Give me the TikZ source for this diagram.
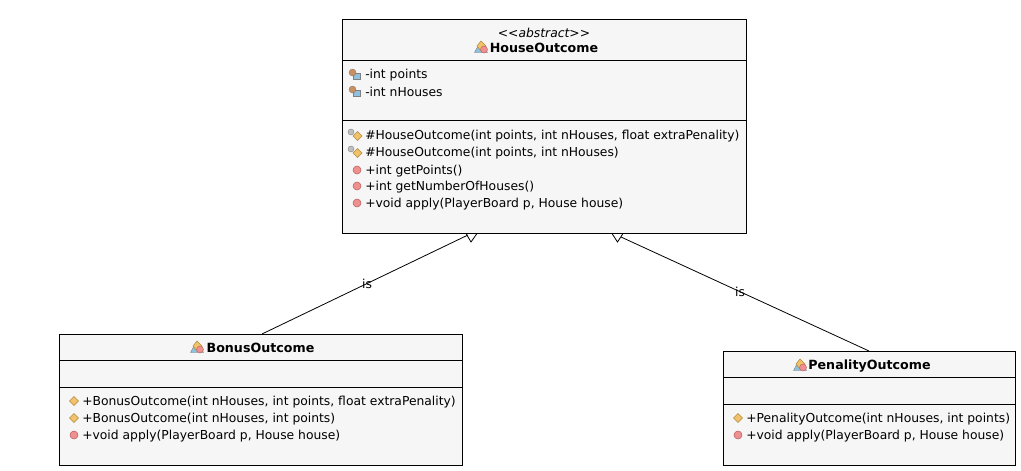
\documentclass[tikz,border=0pt]{standalone}
\usepackage{fontspec}
\setmainfont{DejaVu Sans}
\definecolor{boxfill}{HTML}{F6F6F6}
\definecolor{pubred}{HTML}{EE9090}
\definecolor{pubedge}{HTML}{B85F5F}
\definecolor{pkgorange}{HTML}{F2C16B}
\definecolor{pkgedge}{HTML}{B08A3C}
\definecolor{fieldblue}{HTML}{8FC0DE}
\definecolor{fieldbrown}{HTML}{C98F60}
\tikzset{
  classbox/.style={draw=black, fill=boxfill, line width=0.75pt, inner sep=0pt, rectangle},
  member/.style={anchor=west, inner sep=0pt, font=\fontsize{9.25pt}{10pt}\selectfont, text=black},
  title/.style={inner sep=0pt, font=\fontsize{9.5pt}{10pt}\selectfont\bfseries, text=black},
  rel/.style={line width=0.6pt},
  relhead/.style={draw=black, fill=white, line width=0.6pt},
  rellabel/.style={inner sep=0pt, font=\fontsize{9.25pt}{10pt}\selectfont},
  pubicon/.pic={\filldraw[fill=pubred, draw=pubedge, line width=0.4pt] (0,0) circle (4);},
  pkgicon/.pic={\filldraw[fill=pkgorange, draw=pkgedge, line width=0.4pt] (-4.5,0) -- (0,-4.5) -- (4.5,0) -- (0,4.5) -- cycle;},
  fieldicon/.pic={
    \filldraw[fill=fieldblue, draw=gray, line width=0.3pt] (-2,-1) rectangle (5,5);
    \filldraw[fill=fieldbrown, draw=gray, line width=0.3pt] (-2.5,-1.5) circle (3.5);},
  ctoricon/.pic={
    \filldraw[fill=pkgorange, draw=pkgedge, line width=0.4pt] (-1,1) -- (3.5,-3.5) -- (8,1) -- (3.5,5.5) -- cycle;
    \filldraw[fill=gray!50, draw=gray, line width=0.3pt] (-3,-3) circle (3);},
  classicon/.pic={
    \filldraw[fill=fieldblue, draw=gray, line width=0.3pt] (-6.5,5.5) -- (-3,-1) -- (3,-1) -- (6.5,5.5) -- cycle;
    \filldraw[fill=pkgorange, draw=pkgedge, line width=0.4pt] (-4,-1) -- (0,-6) -- (5,-1) -- (0,4) -- cycle;
    \filldraw[fill=pubred, draw=pubedge, line width=0.3pt] (3,2.5) circle (3.5);}
}
\begin{document}
\begin{tikzpicture}[x=0.75pt, y=-0.75pt]
  \useasboundingbox (0,0) rectangle (1021,471);

  % Class boxes
  \node[classbox, minimum width=404*0.75pt, minimum height=214*0.75pt] (house) at (544,126) {};
  \node[classbox, minimum width=403*0.75pt, minimum height=131*0.75pt] (bonus) at (260.5,399.5) {};
  \node[classbox, minimum width=292*0.75pt, minimum height=114*0.75pt] (penality) at (869,408) {};

  % Compartment lines
  \draw[line width=0.75pt] (342,60) -- (746,60);
  \draw[line width=0.75pt] (342,120) -- (746,120);
  \draw[line width=0.75pt] (59,360) -- (462,360);
  \draw[line width=0.75pt] (59,387) -- (462,387);
  \draw[line width=0.75pt] (723,377) -- (1015,377);
  \draw[line width=0.75pt] (723,404) -- (1015,404);

  % HouseOutcome header
  \node[inner sep=0pt, font=\fontsize{9.25pt}{10pt}\selectfont\itshape] (stereo) at (544,33) {{<}{<}abstract{>}{>}};
  \node[title] (housetitle) at (544,48) {HouseOutcome};
  \pic at (481,47) {classicon};

  % Fields
  \foreach \y/\txt in {74/{-int points}, 91/{-int nHouses}} {
    \pic at (355,\y) {fieldicon};
    \node[member] (field\y) at (365,\y+1) {\txt};
  }

  % HouseOutcome operations
  \foreach \y/\txt in {135/{\#HouseOutcome(int points, int nHouses, float extraPenality)},
                       152/{\#HouseOutcome(int points, int nHouses)}} {
    \pic at (354,\y) {ctoricon};
    \node[member] (op\y) at (365,\y+1) {\txt};
  }
  \foreach \y/\txt in {170/{+int getPoints()}, 186/{+int getNumberOfHouses()},
                       203/{+void apply(PlayerBoard p, House house)}} {
    \pic at (357,\y) {pubicon};
    \node[member] (op\y) at (365,\y+1) {\txt};
  }

  % BonusOutcome
  \node[title] (bonustitle) at (260.5,348) {BonusOutcome};
  \pic at (197,347) {classicon};
  \foreach \y/\txt in {401/{+BonusOutcome(int nHouses, int points, float extraPenality)},
                       418/{+BonusOutcome(int nHouses, int points)}} {
    \pic at (74,\y) {pkgicon};
    \node[member] (bop\y) at (82,\y+1) {\txt};
  }
  \pic at (74,435) {pubicon};
  \node[member] (bop435) at (82,436) {+void apply(PlayerBoard p, House house)};

  % PenalityOutcome
  \node[title] (penalitytitle) at (869.5,366) {PenalityOutcome};
  \pic at (800,365) {classicon};
  \pic at (738,418) {pkgicon};
  \node[member] (pop418) at (746,419) {+PenalityOutcome(int nHouses, int points)};
  \pic at (738,435) {pubicon};
  \node[member] (pop435) at (746,436) {+void apply(PlayerBoard p, House house)};

  % Generalisations
  \coordinate (bonustop) at (262,334);
  \coordinate (penalitytop) at (869,351);
  \coordinate (headleft) at (468,235);
  \coordinate (headright) at (621,237);
  \draw[relhead] (466,233.5) -- (471,242) -- (477,233.5) -- cycle;
  \draw[relhead] (612,233.5) -- (617.5,242) -- (623,233.5) -- cycle;
  \draw[rel] (bonustop) -- (headleft) node[rellabel, pos=0.51] (isleft) {is};
  \draw[rel] (penalitytop) -- (headright) node[rellabel, pos=0.52] (isright) {is};
\end{tikzpicture}
\end{document}
